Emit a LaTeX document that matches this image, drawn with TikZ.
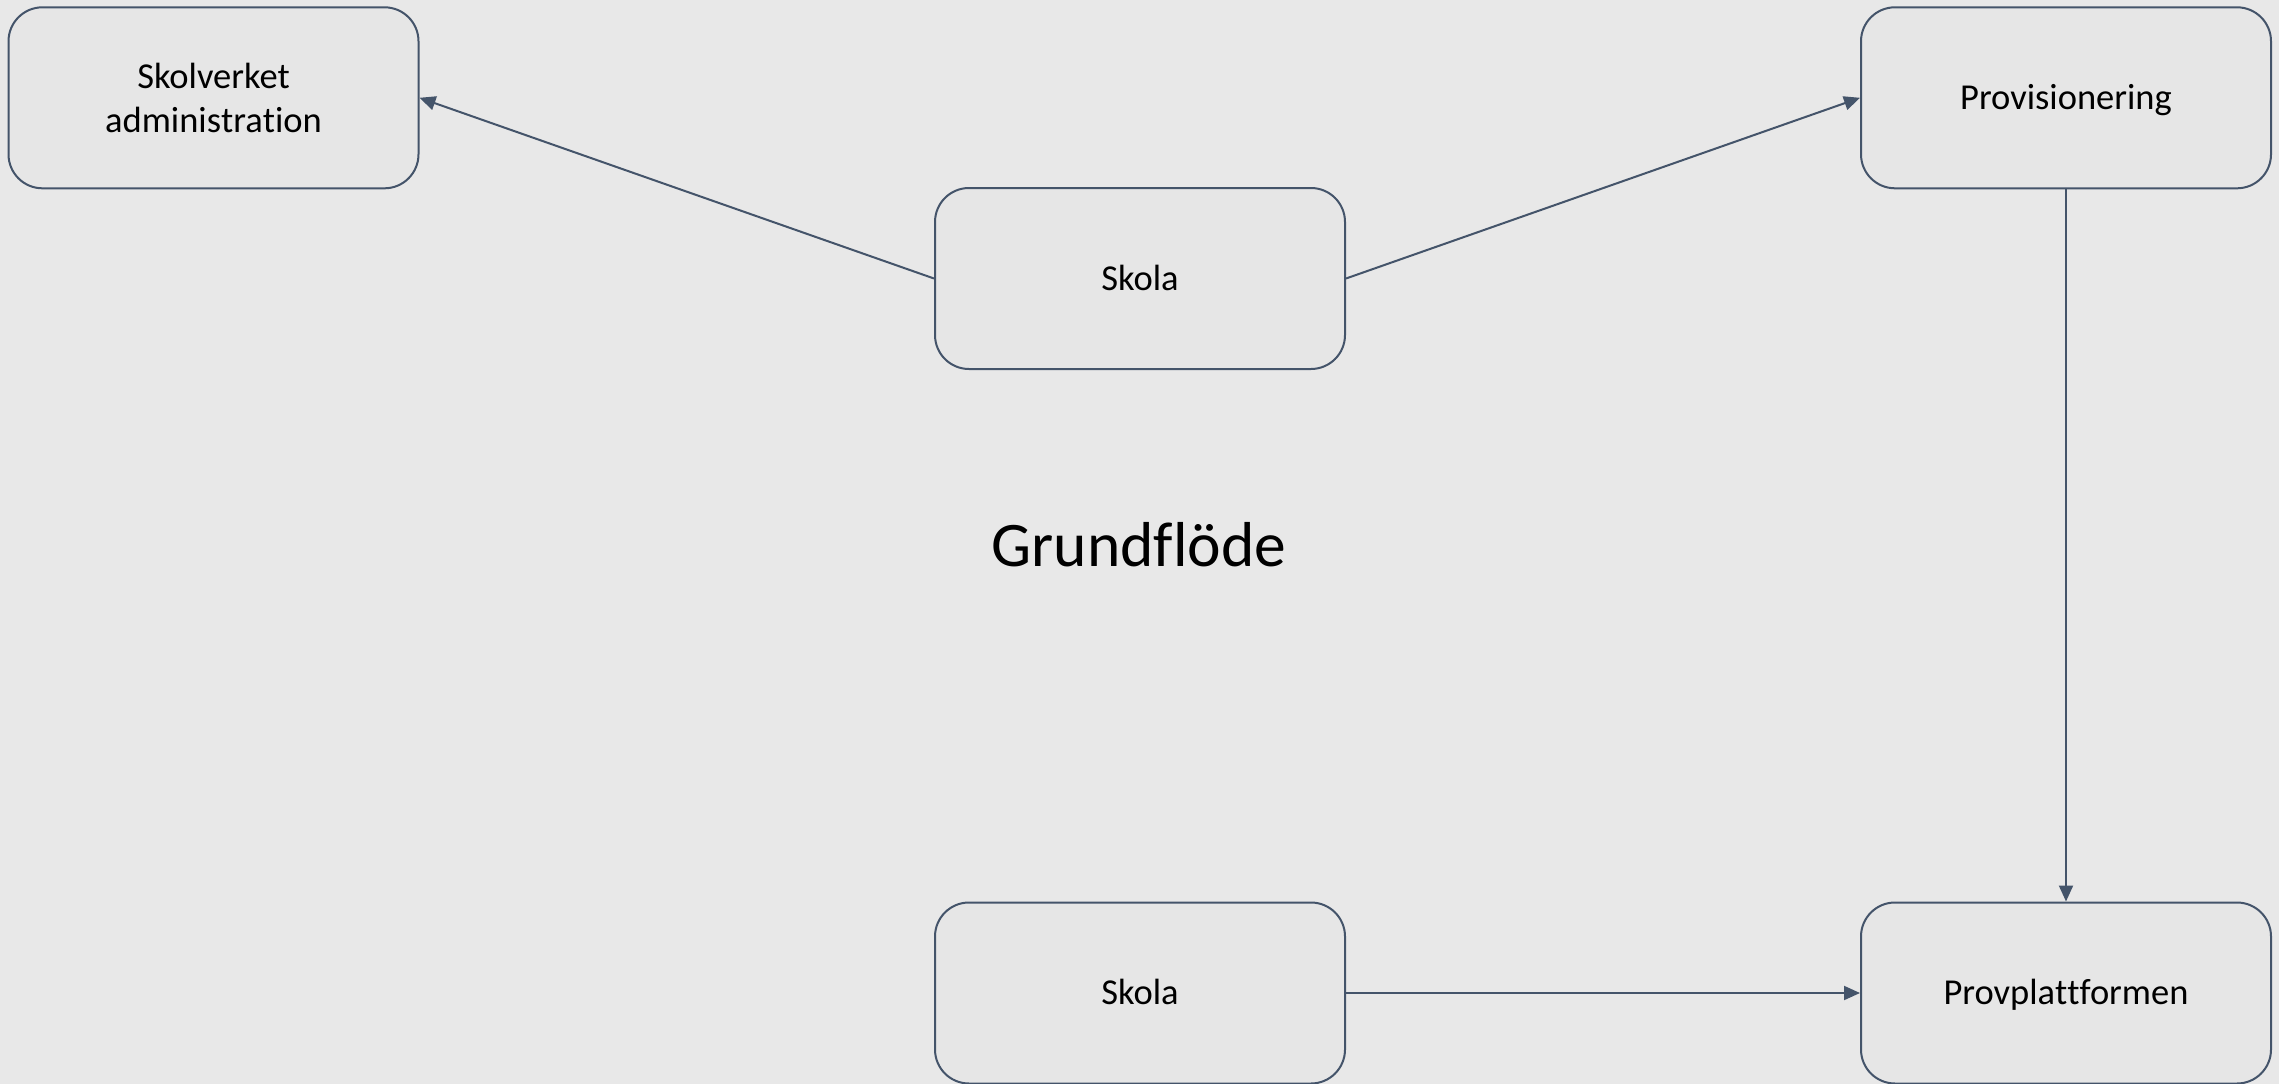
\documentclass[tikz,border=0pt]{standalone}
\usepackage{fontspec}
\setmainfont[Ligatures={NoCommon,NoRequired,NoContextual}]{Carlito}
\usetikzlibrary{arrows.meta}
\definecolor{bg}{HTML}{E8E8E8}
\definecolor{boxfill}{HTML}{E6E6E6}
\definecolor{edge}{HTML}{44546A}
\newcommand{\nolig}{\kern0pt}
\tikzset{
  box/.style={draw=edge, fill=boxfill, line width=2pt, rounded corners=34pt,
    minimum width=410pt, minimum height=181pt, inner sep=0pt, align=center,
    font=\fontsize{36.5pt}{44pt}\selectfont},
  oneline/.style={text height=25pt, text depth=2pt},
  flow/.style={draw=edge, line width=2pt, -{Triangle[length=16pt,width=14pt]}}
}
\begin{document}
\begin{tikzpicture}[x=1pt,y=-1pt]
\fill[bg] (0,0) rectangle (2279,1084);
\useasboundingbox (0,0) rectangle (2279,1084);
\node[box] (adm) at (213.5,97.8) {Skolverket\\adminis\nolig t\nolig ra\nolig t\nolig ion};
\node[box,oneline] (skola1) at (1140,278.5) {Skola};
\node[box,oneline] (prov) at (2066,97.8) {Provisionering};
\node[box,oneline] (skola2) at (1140,993) {Skola};
\node[box,oneline] (plat) at (2066,993) {Provpla\nolig t\nolig t\nolig formen};
\node[font=\fontsize{63.5pt}{76pt}\selectfont] (title) at (1139,545) {Grundf\nolig löde};
\draw[flow] (skola1.west) -- (adm.east);
\draw[flow] (skola1.east) -- (prov.west);
\draw[flow] (prov.south) -- (plat.north);
\draw[flow] (skola2.east) -- (plat.west);
\end{tikzpicture}
\end{document}
